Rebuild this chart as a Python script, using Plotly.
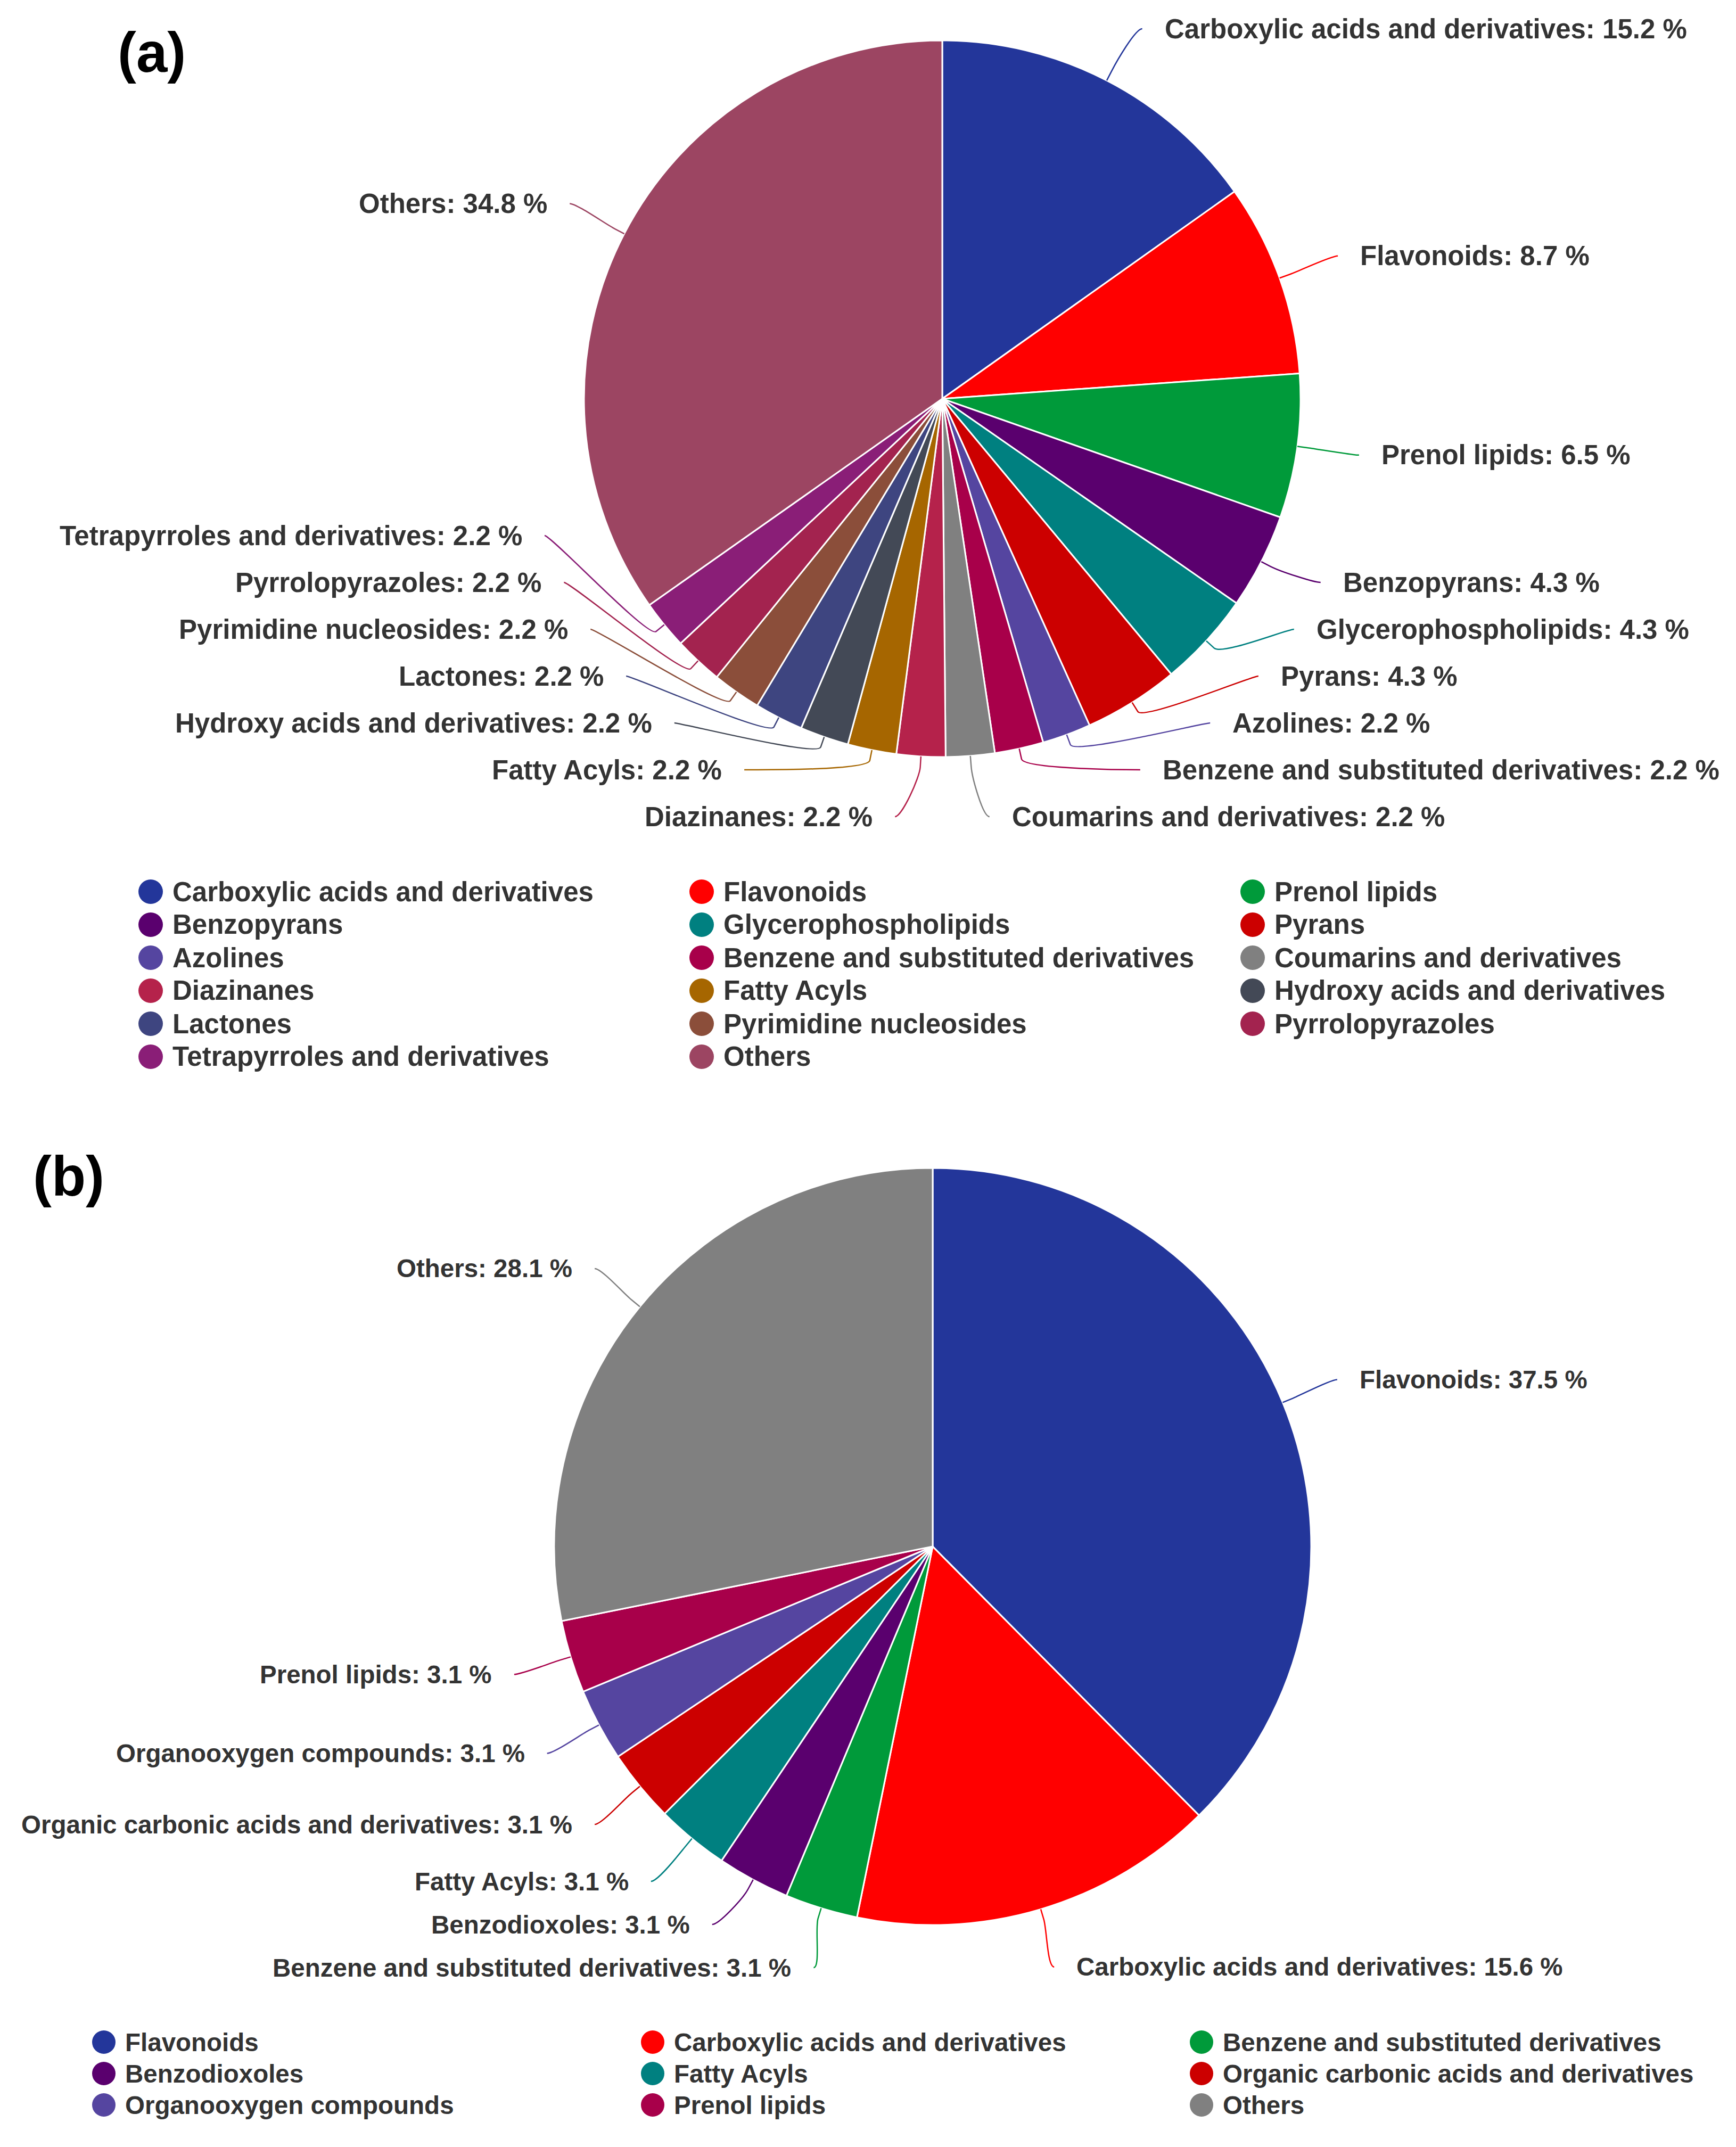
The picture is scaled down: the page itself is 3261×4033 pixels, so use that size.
import numpy as np
import plotly.graph_objects as go

W, H = 3261, 4033

# ---- data ----
labels_a = ["Carboxylic acids and derivatives", "Flavonoids", "Prenol lipids",
            "Benzopyrans", "Glycerophospholipids", "Pyrans", "Azolines",
            "Benzene and substituted derivatives", "Coumarins and derivatives",
            "Diazinanes", "Fatty Acyls", "Hydroxy acids and derivatives",
            "Lactones", "Pyrimidine nucleosides", "Pyrrolopyrazoles",
            "Tetrapyrroles and derivatives", "Others"]
values_a = [15.2, 8.7, 6.5, 4.3, 4.3, 4.3, 2.2, 2.2, 2.2, 2.2, 2.2, 2.2,
            2.2, 2.2, 2.2, 2.2, 34.8]

labels_b = ["Flavonoids", "Carboxylic acids and derivatives",
            "Benzene and substituted derivatives", "Benzodioxoles",
            "Fatty Acyls", "Organic carbonic acids and derivatives",
            "Organooxygen compounds", "Prenol lipids", "Others"]
values_b = [37.5, 15.6, 3.1, 3.1, 3.1, 3.1, 3.1, 3.1, 28.1]

palette = ["#23369A", "#FF0000", "#009A3A", "#5A006E", "#008080", "#CC0000",
           "#5545A0", "#A8004A", "#808080", "#B5224B", "#A66600", "#434956",
           "#3E4580", "#8B4E3A", "#A3234F", "#8A1E77", "#9C4562"]

TEXT = "#333333"
FONT = "Liberation Sans, Arial, sans-serif"


def fx(x):
    return x / W


def fy(y):
    return 1 - y / H


def outside_labels(labels, values, colors, cx, cy, R, r_lab, r_x, gap, y_min,
                   y_max, step, size):
    """Highcharts-like outside labels with soft connectors (pixel space)."""
    vals = np.array(values, dtype=float)
    cum = np.concatenate([[0], np.cumsum(vals)])
    mids = (cum[:-1] + vals / 2) / vals.sum() * 2 * np.pi
    anns, shapes = [], []
    sides = {1: [], -1: []}
    for i, th in enumerate(mids):
        s = 1 if np.sin(th) >= 0 else -1
        ny = min(max(cy - r_lab * np.cos(th), y_min), y_max)
        sides[s].append([ny, i])
    for s, items in sides.items():
        items.sort()
        ys = [it[0] for it in items]
        for k in range(1, len(ys)):
            ys[k] = max(ys[k], ys[k - 1] + step)
        if ys:
            ys[-1] = min(ys[-1], y_max)
        for k in range(len(ys) - 2, -1, -1):
            ys[k] = min(ys[k], ys[k + 1] - step)
        for (ny, i), y in zip(items, ys):
            th = mids[i]
            dx = np.sqrt(max(r_x ** 2 - (y - cy) ** 2, 0))
            lx = cx + s * dx
            tx, ty = cx + R * np.sin(th), cy - R * np.cos(th)
            bx, by = cx + (R + 20) * np.sin(th), cy - (R + 20) * np.cos(th)
            path = (f"M{fx(lx)},{fy(y)} C{fx(lx - s * 13)},{fy(y)} "
                    f"{fx(2 * bx - tx)},{fy(2 * by - ty)} {fx(bx)},{fy(by)} "
                    f"L{fx(tx)},{fy(ty)}")
            shapes.append(dict(type="path", path=path, xref="paper", yref="paper",
                               line=dict(color=colors[i], width=2.5)))
            anns.append(dict(x=fx(lx + s * gap), y=fy(y), xref="paper", yref="paper",
                             text=f"{labels[i]}: {values[i]:.1f} %",
                             xanchor="left" if s > 0 else "right", yanchor="middle",
                             showarrow=False,
                             font=dict(family=FONT, size=size, color=TEXT,
                                       weight="bold")))
    return anns, shapes


def legend_items(labels, colors, x0, y0, pitch, row_step, rad, size):
    anns, shapes = [], []
    for i, lab in enumerate(labels):
        mx = x0 + (i % 3) * pitch
        my = y0 + (i // 3) * row_step
        shapes.append(dict(type="circle", xref="paper", yref="paper",
                           x0=fx(mx - rad), x1=fx(mx + rad),
                           y0=fy(my + rad), y1=fy(my - rad),
                           fillcolor=colors[i], line=dict(width=0)))
        anns.append(dict(x=fx(mx + rad + 16), y=fy(my), xref="paper", yref="paper",
                         text=lab, xanchor="left", yanchor="middle", showarrow=False,
                         font=dict(family=FONT, size=size, color=TEXT,
                                   weight="bold")))
    return anns, shapes


colors_a = palette[:len(labels_a)]
colors_b = palette[:len(labels_b) - 1] + ["#808080"]

# pie geometry (pixels)
ca = dict(cx=1762, cy=741, R=673)
cb = dict(cx=1744, cy=2897, R=711)

fig = go.Figure()
for labs, vals, cols, c in [(labels_a, values_a, colors_a, ca),
                            (labels_b, values_b, colors_b, cb)]:
    fig.add_trace(go.Pie(
        labels=labs, values=vals, sort=False, direction="clockwise", rotation=0,
        textinfo="none", showlegend=False,
        marker=dict(colors=cols, line=dict(color="white", width=3)),
        domain=dict(x=[fx(c["cx"] - c["R"]), fx(c["cx"] + c["R"])],
                    y=[fy(c["cy"] + c["R"]), fy(c["cy"] - c["R"])]),
    ))

anns, shapes = [], []
a1, s1 = outside_labels(labels_a, values_a, colors_a, ca["cx"], ca["cy"], ca["R"],
                        r_lab=796, r_x=790, gap=40, y_min=46, y_max=1526,
                        step=88, size=51)
a2, s2 = outside_labels(labels_b, values_b, colors_b, cb["cx"], cb["cy"], cb["R"],
                        r_lab=824, r_x=822, gap=40, y_min=2150, y_max=3688,
                        step=81, size=47.5)
a3, s3 = legend_items(labels_a, colors_a, 275, 1667, 1035, 62, 23, 51)
a4, s4 = legend_items(labels_b, colors_b, 187, 3828, 1031, 59, 22, 47.5)
anns += a1 + a2 + a3 + a4
shapes += s1 + s2 + s3 + s4

for txt, x, y in [("(a)", 277, 90), ("(b)", 121, 2201)]:
    anns.append(dict(x=fx(x), y=fy(y), xref="paper", yref="paper", text=txt,
                     showarrow=False, xanchor="center", yanchor="middle",
                     font=dict(family=FONT, size=105, color="black", weight="bold")))

fig.update_layout(
    width=W, height=H, margin=dict(l=0, r=0, t=0, b=0),
    paper_bgcolor="white", plot_bgcolor="white",
    annotations=anns, shapes=shapes,
)

fig.write_html("out.html")
